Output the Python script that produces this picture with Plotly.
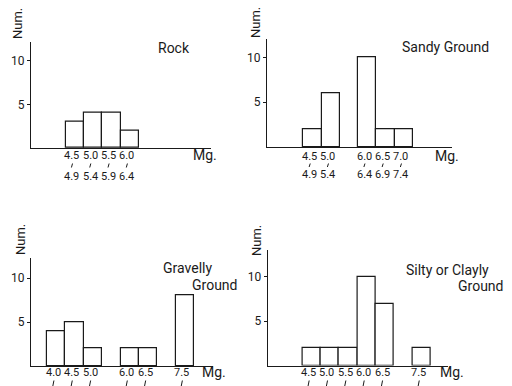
import plotly.graph_objects as go

W, H = 512, 386

# ---------------- data ----------------
bin_width = 0.5

rock_bins = [4.5, 5.0, 5.5, 6.0]
rock_counts = [3, 4, 4, 2]
rock_lo = ["4.5", "5.0", "5.5", "6.0"]
rock_hi = ["4.9", "5.4", "5.9", "6.4"]

sandy_bins = [4.5, 5.0, 6.0, 6.5, 7.0]
sandy_counts = [2, 6, 10, 2, 2]
sandy_lo = ["4.5", "5.0", "6.0", "6.5", "7.0"]
sandy_hi = ["4.9", "5.4", "6.4", "6.9", "7.4"]

gravel_bins = [4.0, 4.5, 5.0, 6.0, 6.5, 7.5]
gravel_counts = [4, 5, 2, 2, 2, 8]
gravel_lo = ["4.0", "4.5", "5.0", "6.0", "6.5", "7.5"]

silty_bins = [4.5, 5.0, 5.5, 6.0, 6.5, 7.5]
silty_counts = [2, 2, 2, 10, 7, 2]
silty_lo = ["4.5", "5.0", "5.5", "6.0", "6.5", "7.5"]

y_ticks = [5, 10]

# ---------------- layout (pixel positions) ----------------
panels = [
    dict(bins=rock_bins, counts=rock_counts, lo=rock_lo, hi=rock_hi,
         x0=31, x1=211, ytop=41.7, ybase=148, xr=[3.55, 8.47], yr=[0, 12.2],
         title=[("Rock", 174, 48)], mg=(205, 155), num=(17, 24),
         rows=(155, (163.5, 167.5), 176.5)),
    dict(bins=sandy_bins, counts=sandy_counts, lo=sandy_lo, hi=sandy_hi,
         x0=267, x1=452, ytop=39.3, ybase=147, xr=[3.5, 8.57], yr=[0, 12.03],
         title=[("Sandy Ground", 445.7, 47.3)], mg=(447, 156), num=(256, 23),
         rows=(156.5, (163.5, 167), 174)),
    dict(bins=gravel_bins, counts=gravel_counts, lo=gravel_lo, hi=None,
         x0=31, x1=213, ytop=258.3, ybase=366, xr=[3.56, 8.52], yr=[0, 12.24],
         title=[("Gravelly", 187, 268), ("Ground", 214, 284.7)], mg=(214, 372),
         num=(20, 240), rows=(372, (380.5, 386), None)),
    dict(bins=silty_bins, counts=silty_counts, lo=silty_lo, hi=None,
         x0=267.7, x1=447.7, ytop=250, ybase=365.5, xr=[3.555, 8.46], yr=[0, 13.05],
         title=[("Silty or Clayly", 447.6, 270.3), ("Ground", 480, 285.7)],
         mg=(452, 372), num=(256, 241), rows=(372, (380.5, 386), None)),
]

FONT = "Roboto"
INK = "#1a1a1a"


def px(x):
    return x / W


def py(y):
    return 1 - y / H


fig = go.Figure()
annotations = []
shapes = []
layout = {}

for i, p in enumerate(panels, start=1):
    xa = "x" if i == 1 else f"x{i}"
    ya = "y" if i == 1 else f"y{i}"
    fig.add_trace(go.Bar(
        x=[b + bin_width / 2 for b in p["bins"]],
        y=p["counts"],
        width=bin_width,
        xaxis=xa, yaxis=ya,
        marker=dict(color="white", line=dict(color=INK, width=1.2)),
        showlegend=False, hoverinfo="skip",
    ))
    layout["xaxis" if i == 1 else f"xaxis{i}"] = dict(
        domain=[px(p["x0"]), px(p["x1"])], range=p["xr"], anchor=ya,
        showline=True, linecolor=INK, linewidth=1.2, showticklabels=False,
        ticks="", showgrid=False, zeroline=False, fixedrange=True,
    )
    layout["yaxis" if i == 1 else f"yaxis{i}"] = dict(
        domain=[py(p["ybase"]), py(p["ytop"])], range=p["yr"], anchor=xa,
        showline=True, linecolor=INK, linewidth=1.2, tickvals=y_ticks,
        ticks="outside", ticklen=3, tickcolor=INK, ticklabelstandoff=0,
        tickfont=dict(family=FONT, size=12, color=INK),
        showgrid=False, zeroline=False, fixedrange=True,
    )
    for txt, tx, ty in p["title"]:
        annotations.append(dict(text=txt, x=px(tx), y=py(ty), xref="paper", yref="paper",
                                showarrow=False, xanchor="center", yanchor="middle",
                                font=dict(family=FONT, size=14, color=INK)))
    annotations.append(dict(text="Mg.", x=px(p["mg"][0]), y=py(p["mg"][1]), xref="paper",
                            yref="paper", showarrow=False, xanchor="center", yanchor="middle",
                            font=dict(family=FONT, size=14, color=INK)))
    annotations.append(dict(text="Num.", x=px(p["num"][0]), y=py(p["num"][1]), xref="paper",
                            yref="paper", showarrow=False, textangle=-90,
                            xanchor="center", yanchor="middle",
                            font=dict(family=FONT, size=13, color=INK)))
    r1, (m0, m1), r3 = p["rows"]
    for j, b in enumerate(p["bins"]):
        cx = b + bin_width / 2 - 0.08
        annotations.append(dict(text=p["lo"][j], x=cx, y=py(r1), xref=xa, yref="paper",
                                showarrow=False, xanchor="center", yanchor="middle",
                                borderpad=0,
                                font=dict(family=FONT, size=11, color=INK)))
        # small "from-to" dash between the two label rows
        shapes.append(dict(type="line", xref=xa, yref="paper",
                           x0=cx + 0.015, x1=cx - 0.015, y0=py(m0), y1=py(m1),
                           line=dict(color=INK, width=1)))
        if p["hi"] is not None and r3 is not None:
            annotations.append(dict(text=p["hi"][j], x=cx, y=py(r3), xref=xa, yref="paper",
                                    showarrow=False, xanchor="center", yanchor="middle",
                                    borderpad=0,
                                    font=dict(family=FONT, size=11, color=INK)))

fig.update_layout(
    width=W, height=H, margin=dict(l=0, r=0, t=0, b=0),
    paper_bgcolor="white", plot_bgcolor="white",
    bargap=0, annotations=annotations, shapes=shapes, **layout,
)

fig.write_html("out.html", config={"displayModeBar": False},
               post_script="document.body.style.margin='0';document.body.style.overflow='hidden';")
